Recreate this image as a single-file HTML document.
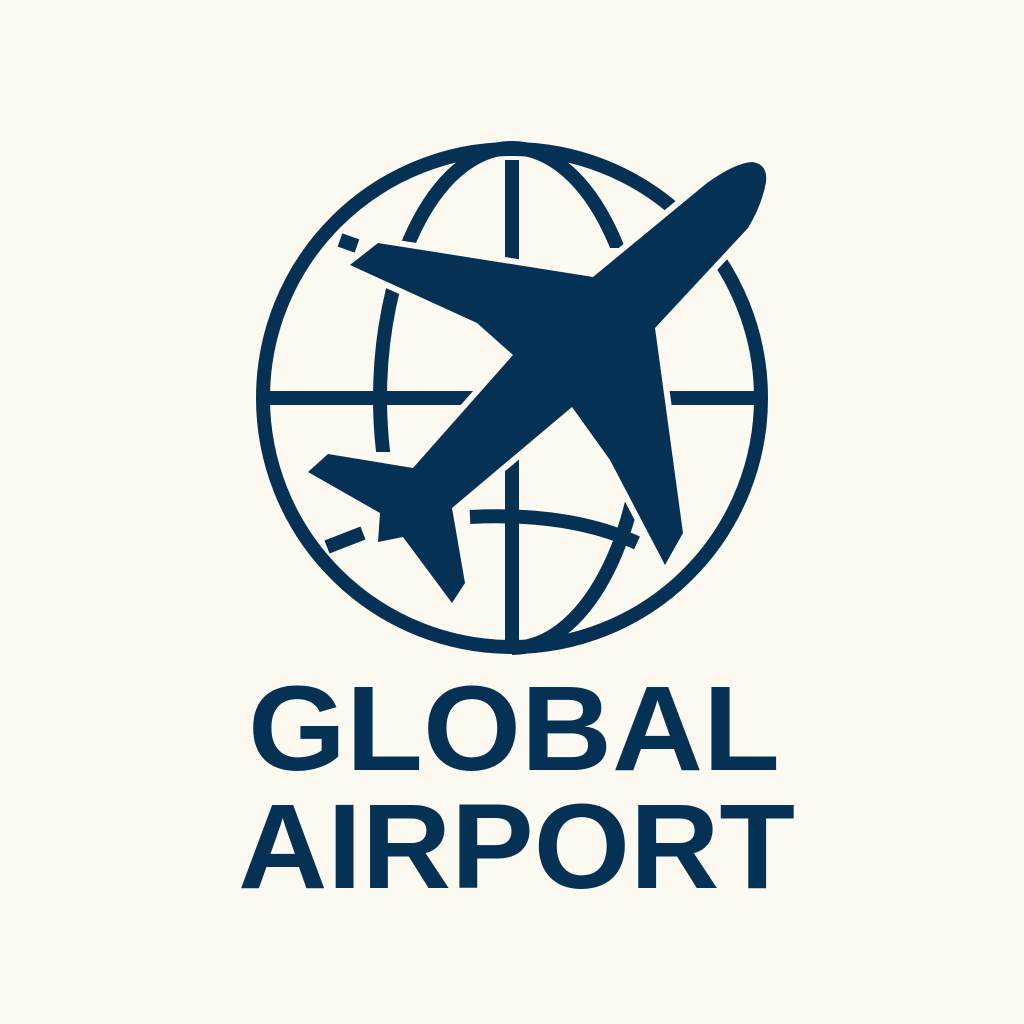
<!DOCTYPE html>
<html><head><meta charset="utf-8"><style>
html,body{margin:0;padding:0;background:#fcf9f0;}
svg{display:block}
</style></head><body>
<svg width="1024" height="1024" viewBox="0 0 1024 1024">
<rect width="1024" height="1024" fill="#fcf9f0"/>
<defs>
<clipPath id="topHalf"><rect x="0" y="0" width="1024" height="452"/></clipPath>
<clipPath id="rightClip"><rect x="0" y="0" width="1024" height="248"/><rect x="0" y="495" width="1024" height="529"/></clipPath>
</defs>
<g fill="none" stroke="#053154" stroke-width="14">
<circle cx="512" cy="398" r="249"/>
<line x1="263" y1="398" x2="761" y2="398"/>
<line x1="512" y1="160" x2="512" y2="640"/>
<path d="M 512 148 A 132 250 0 0 0 512 648" clip-path="url(#topHalf)"/>
<path d="M 512 148 A 132 250 0 0 1 512 648" clip-path="url(#rightClip)"/>
<path d="M 470 517 Q 570 512 637 543"/>
<path d="M 327 547 L 363 533"/>
<path d="M 340 240 L 357 246"/>
</g>
<path fill="#053154" stroke="#fcf9f0" stroke-width="12" stroke-linejoin="round" paint-order="stroke"
d="M707,183 Q735,163 752,162 Q768,164 766,182 Q762,205 748,228 L655,328 L683,533 L665,565 L610,460 L572,407 L452,508 L465,583 L452,603 L403,537 L378,542 L380,513 L308,472 L328,454 L413,468 L513,355 L477,323 L350,265 L378,243 L593,277 Z"/>
<g fill="#053154" font-family="'Liberation Sans', sans-serif" font-weight="bold" font-size="121">
<text x="248" y="770" textLength="532" lengthAdjust="spacingAndGlyphs">GLOBAL</text>
<text x="238" y="888" textLength="557" lengthAdjust="spacingAndGlyphs">AIRPORT</text>
</g>
</svg>
</body></html>
